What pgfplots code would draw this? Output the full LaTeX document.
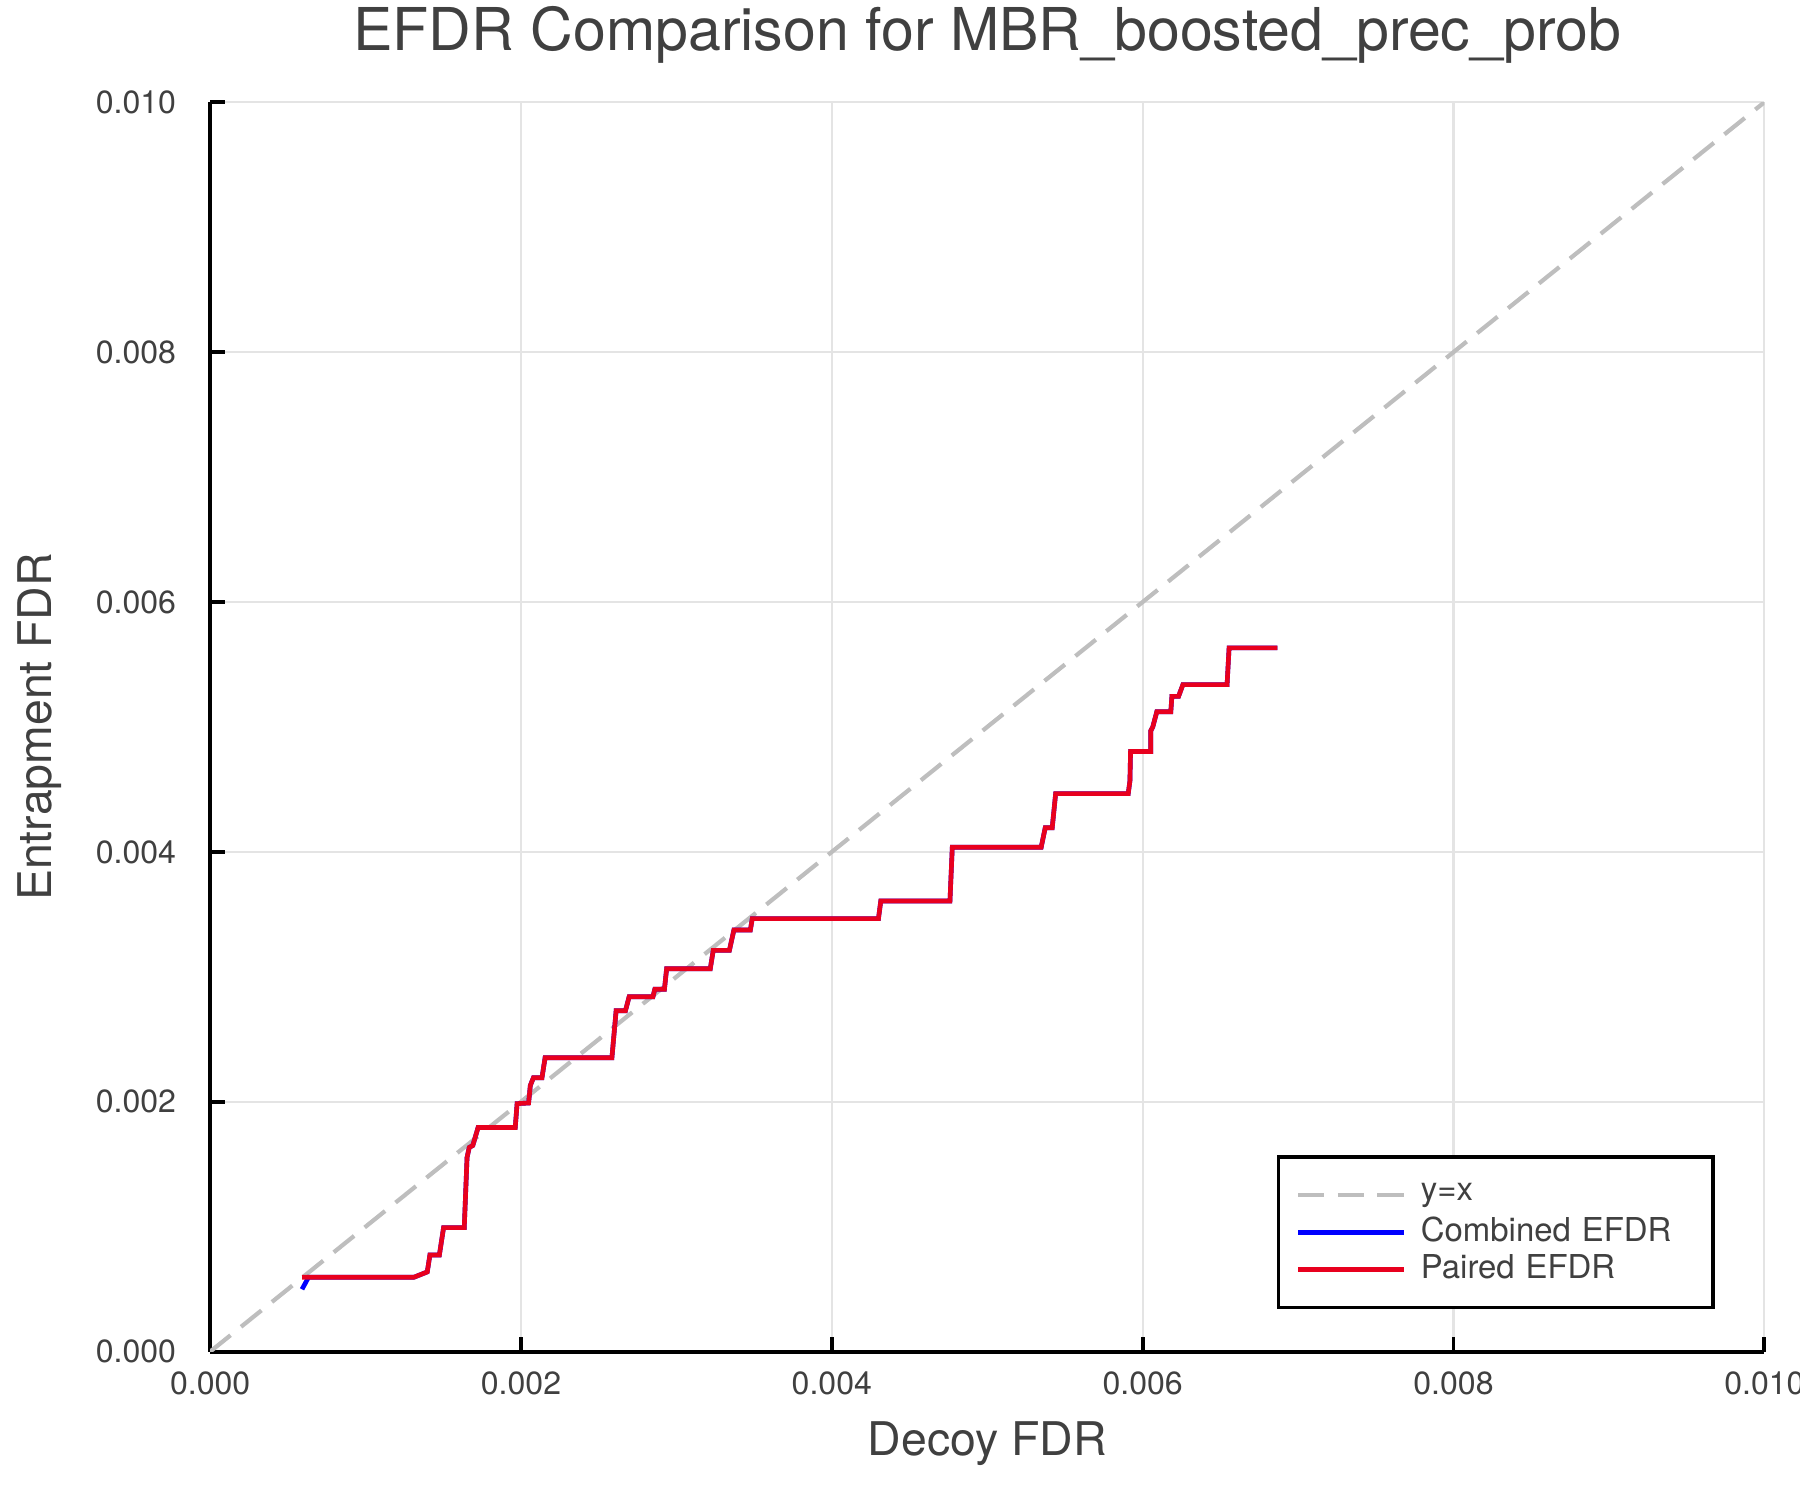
\documentclass[border=0pt]{standalone}
\usepackage{fontspec}
\setmainfont{TeX Gyre Heros}
\usepackage{pgfplots}
\pgfplotsset{compat=1.18}
\usepackage{pgfplotstable}

\definecolor{txt}{RGB}{64,64,64}
\definecolor{gridc}{RGB}{228,228,228}
\definecolor{diag}{RGB}{190,190,190}
\definecolor{pairedred}{RGB}{232,0,30}

% Paired EFDR (decoy FDR, entrapment FDR)
\pgfplotstableread{
x        y
0.000591 0.000595
0.001310 0.000595
0.001397 0.000638
0.001414 0.000774
0.001475 0.000774
0.001502 0.000993
0.001635 0.000993
0.001653 0.001554
0.001667 0.001634
0.001690 0.001650
0.001724 0.001794
0.001963 0.001794
0.001975 0.001985
0.002049 0.001990
0.002060 0.002130
0.002080 0.002192
0.002135 0.002192
0.002155 0.002352
0.002585 0.002352
0.002612 0.002728
0.002672 0.002728
0.002696 0.002841
0.002849 0.002841
0.002861 0.002900
0.002923 0.002900
0.002937 0.003065
0.003218 0.003065
0.003237 0.003212
0.003341 0.003212
0.003370 0.003375
0.003476 0.003375
0.003488 0.003466
0.004300 0.003466
0.004315 0.003607
0.004760 0.003607
0.004775 0.004037
0.005347 0.004037
0.005373 0.004193
0.005418 0.004193
0.005440 0.004466
0.005907 0.004466
0.005918 0.004568
0.005922 0.004803
0.006052 0.004803
0.006052 0.004969
0.006065 0.005000
0.006091 0.005122
0.006181 0.005122
0.006188 0.005245
0.006231 0.005245
0.006259 0.005339
0.006543 0.005339
0.006556 0.005633
0.006866 0.005633
}\paired

% Combined EFDR: same curve, different first point
\pgfplotstableread{
x        y
0.000591 0.000499
0.000633 0.000595
0.001310 0.000595
0.001397 0.000638
0.001414 0.000774
0.001475 0.000774
0.001502 0.000993
0.001635 0.000993
0.001653 0.001554
0.001667 0.001634
0.001690 0.001650
0.001724 0.001794
0.001963 0.001794
0.001975 0.001985
0.002049 0.001990
0.002060 0.002130
0.002080 0.002192
0.002135 0.002192
0.002155 0.002352
0.002585 0.002352
0.002612 0.002728
0.002672 0.002728
0.002696 0.002841
0.002849 0.002841
0.002861 0.002900
0.002923 0.002900
0.002937 0.003065
0.003218 0.003065
0.003237 0.003212
0.003341 0.003212
0.003370 0.003375
0.003476 0.003375
0.003488 0.003466
0.004300 0.003466
0.004315 0.003607
0.004760 0.003607
0.004775 0.004037
0.005347 0.004037
0.005373 0.004193
0.005418 0.004193
0.005440 0.004466
0.005907 0.004466
0.005918 0.004568
0.005922 0.004803
0.006052 0.004803
0.006052 0.004969
0.006065 0.005000
0.006091 0.005122
0.006181 0.005122
0.006188 0.005245
0.006231 0.005245
0.006259 0.005339
0.006543 0.005339
0.006556 0.005633
0.006866 0.005633
}\combined

\begin{document}
\begin{tikzpicture}
\begin{axis}[
    scale only axis,
    width=12.95cm, height=10.41cm,
    xmin=0, xmax=0.01, ymin=0, ymax=0.01,
    axis lines=left,
    axis line style={-, black, line width=0.9pt},
    xtick={0,0.002,0.004,0.006,0.008,0.01},
    ytick={0,0.002,0.004,0.006,0.008,0.01},
    scaled ticks=false,
    /pgf/number format/.cd, fixed, fixed zerofill, precision=3, assume math mode=true,
    /pgfplots/.cd,
    tick align=inside,
    major tick length=0.12cm,
    tick style={black, line width=0.9pt},
    grid=major,
    major grid style={gridc, line width=0.5pt},
    tick label style={font=\fontsize{7.6}{9}\selectfont, text=txt},
    yticklabel style={xshift=-0.16cm},
    xticklabel style={yshift=-0.04cm},
    xlabel={Decoy FDR},
    ylabel={Entrapment FDR},
    label style={font=\fontsize{11}{13}\selectfont, text=txt},
    xlabel style={at={(axis description cs:0.5,0)}, anchor=center, yshift=-0.77cm},
    ylabel style={at={(axis description cs:0,0.5)}, anchor=center, rotate=0, yshift=1.42cm},
    every axis title shift=0pt,
    title={EFDR Comparison for MBR\_boosted\_prec\_prob},
    title style={at={(axis description cs:0.5,1)}, anchor=center, yshift=0.565cm,
                 font=\fontsize{14}{16}\selectfont, text=txt},
    legend cell align=left,
    legend image code/.code={\draw[#1, line width=1.1pt] (0cm,0cm) -- (0.88cm,0cm);},
    legend style={at={(0.9680,0.034)}, anchor=south east,
        draw=black, line width=0.8pt, fill=white,
        font=\fontsize{7.8}{9}\selectfont, text=txt,
        inner xsep=0.143cm, inner ysep=0.16cm,
        column sep=0.124cm, row sep=0pt,
        nodes={inner sep=0pt, minimum height=0.311cm, text width=2.29cm, anchor=west}},
]
\addplot[diag, line width=1pt, dash pattern=on 6.2pt off 3.2pt] coordinates {(0,0) (0.01,0.01)};
\addlegendentry{y=x}
\addplot[blue, line width=1.1pt] table[x=x, y=y] {\combined};
\addlegendentry{Combined EFDR}
\addplot[pairedred, line width=1.1pt] table[x=x, y=y] {\paired};
\addlegendentry{Paired EFDR}
\end{axis}
\pgfresetboundingbox
\path ([shift={(-1.751cm,-1.235cm)}]current axis.south west)
      rectangle ([shift={(0.297cm,0.852cm)}]current axis.north east);
\end{tikzpicture}
\end{document}
